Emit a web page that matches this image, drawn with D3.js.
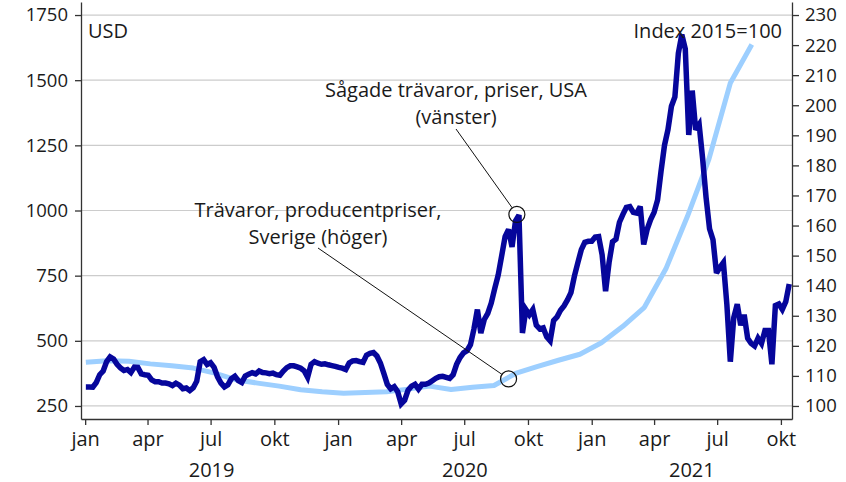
<!DOCTYPE html>
<html>
<head>
<meta charset="utf-8">
<script src="https://cdn.jsdelivr.net/npm/d3@7"></script>
<style>
  body { margin: 0; background: #fff; }
  text { font-family: "Open Sans", sans-serif; fill: #1a1a1a; }
</style>
</head>
<body>
<div id="chart"></div>
<script>
// Sågade trävaror, priser, USA (USD), one value every 5 days from 2 jan 2019
var lumberStart = "2019-01-02";
var lumberStep = 5;
var lumberPrice = [
  323, 323, 322, 340, 370, 384, 420, 438, 430, 410,
  396, 386, 390, 378, 399, 398, 373, 370, 368, 350,
  343, 343, 338, 338, 335, 328, 337, 330, 316, 319,
  309, 320, 345, 420, 428, 409, 416, 398, 362, 338,
  323, 331, 355, 364, 347, 340, 365, 372, 378, 373,
  384, 378, 377, 374, 376, 370, 368, 384, 397, 404,
  404, 400, 395, 385, 360, 410, 420, 414, 410, 412,
  408, 405, 402, 398, 395, 390, 415, 423, 424, 420,
  417, 445, 452, 455, 442, 415, 375, 333, 316, 324,
  305, 258, 272, 311, 326, 333, 315, 333, 333, 338,
  347, 356, 362, 364, 360, 356, 370, 410, 436, 454,
  462, 485, 545, 620, 530, 582, 605, 645, 700, 752,
  825, 900, 927, 860, 960, 982, 530, 620, 600, 620,
  560, 546, 550, 515, 500, 578, 592, 617, 634, 657,
  685, 748, 800, 850, 878, 882, 882, 898, 900, 830,
  690, 800, 880, 890, 955, 985, 1012, 1015, 993, 990,
  1015, 870, 928, 965, 993, 1040, 1150, 1250, 1310, 1400,
  1436, 1603, 1675, 1620, 1290, 1460, 1310, 1330, 1200, 1050,
  930, 888, 760, 782, 800, 640, 420, 590, 640, 560,
  600, 510, 490, 480, 510, 490, 540, 540, 410, 635,
  641, 620, 650, 718
];

// Trävaror, producentpriser, Sverige (index 2015=100), monthly
var ppiStart = "2019-01-02";
var ppiStep = 31;
var ppiIndex = [
  114.5, 115.0, 114.9, 114.0, 113.4, 112.6, 110.9, 108.7, 107.6, 106.6,
  105.4, 104.7, 104.2, 104.5, 104.7, 105.6, 106.6, 105.5, 106.2, 106.8,
  110.8, 113.1, 115.2, 117.2, 121.0, 126.5, 132.8, 145.6, 163.0, 182.0,
  207.4, 220.2
];

var leftTicks = [250, 500, 750, 1000, 1250, 1500, 1750];
var rightTicks = [100, 110, 120, 130, 140, 150, 160, 170, 180, 190, 200, 210, 220, 230];
var monthNames = ["jan", "feb", "mar", "apr", "maj", "jun", "jul", "aug", "sep", "okt", "nov", "dec"];
var years = [2019, 2020, 2021];

var lumberAnchor = {date: "2020-09-15", value: 985};
var ppiAnchor = {date: "2020-09-03", value: 109};

var parse = d3.timeParse("%Y-%m-%d");

var lumber = lumberPrice.map(function(v, i) {
  return {date: d3.timeDay.offset(parse(lumberStart), i * lumberStep), value: v};
});
var ppi = ppiIndex.map(function(v, i) {
  return {date: d3.timeDay.offset(parse(ppiStart), i * ppiStep), value: v};
});

var W = 846, H = 482;
var plotL = 81, plotR = 792, plotT = 2, plotB = 419;
var fsNum = "18.5px", fs = "20px";

var svg = d3.select("#chart").append("svg")
    .attr("width", W)
    .attr("height", H);

var x = d3.scaleTime()
    .domain([new Date(2018, 11, 26), new Date(2021, 9, 17)])
    .range([plotL, plotR]);
var yL = d3.scaleLinear().domain([200, 1800]).range([plotB, plotT]);
var yR = d3.scaleLinear().domain([95.667, 234.333]).range([plotB, plotT]);

// grid
svg.append("g")
  .selectAll("line")
  .data(leftTicks)
  .enter().append("line")
    .attr("x1", plotL).attr("x2", plotR)
    .attr("y1", function(d) { return yL(d); })
    .attr("y2", function(d) { return yL(d); })
    .attr("stroke", "#cccccc")
    .attr("stroke-width", 1.2);

var lineL = d3.line()
    .x(function(d) { return x(d.date); })
    .y(function(d) { return yL(d.value); });
var lineR = d3.line()
    .x(function(d) { return x(d.date); })
    .y(function(d) { return yR(d.value); });

svg.append("path")
    .datum(ppi)
    .attr("fill", "none")
    .attr("stroke", "#9dcfff")
    .attr("stroke-width", 5)
    .attr("stroke-linejoin", "round")
    .attr("d", lineR);

svg.append("path")
    .datum(lumber)
    .attr("fill", "none")
    .attr("stroke", "#06069b")
    .attr("stroke-width", 5.5)
    .attr("stroke-linejoin", "miter")
    .attr("stroke-miterlimit", 3)
    .attr("d", lineL);

// axes
var axL = svg.append("g")
    .attr("transform", "translate(" + plotL + ",0)")
    .call(d3.axisLeft(yL).tickValues(leftTicks).tickFormat(d3.format("d"))
      .tickSize(6).tickSizeOuter(0).tickPadding(7));
var axR = svg.append("g")
    .attr("transform", "translate(" + plotR + ",0)")
    .call(d3.axisRight(yR).tickValues(rightTicks).tickSize(7).tickSizeOuter(0).tickPadding(6));

var monthTicks = d3.timeMonth.every(3).range(new Date(2019, 0, 1), new Date(2021, 9, 2));
var axB = svg.append("g")
    .attr("transform", "translate(0," + plotB + ")")
    .call(d3.axisBottom(x).tickValues(monthTicks).tickSize(6).tickSizeOuter(0).tickPadding(7)
      .tickFormat(function(d) { return monthNames[d.getMonth()]; }));

[axL, axR, axB].forEach(function(a) {
  a.selectAll("path, line").attr("stroke", "#333").attr("stroke-width", 1.3);
  a.selectAll("text").style("font-family", "'Open Sans', sans-serif").attr("fill", "#1a1a1a");
});
axL.selectAll("text").style("font-size", fsNum);
axR.selectAll("text").style("font-size", fsNum);
axB.selectAll("text").style("font-size", fs);

svg.append("g")
  .selectAll("text")
  .data(years)
  .enter().append("text")
    .attr("x", function(d) {
      var a = Math.max(x(new Date(d, 0, 1)), plotL);
      var b = Math.min(x(new Date(d + 1, 0, 1)), plotR);
      return (a + b) / 2;
    })
    .attr("y", 477)
    .attr("text-anchor", "middle")
    .style("font-size", fs)
    .text(function(d) { return d; });

svg.append("text")
    .attr("x", 88).attr("y", 38)
    .style("font-size", fs)
    .text("USD");

svg.append("text")
    .attr("x", 782).attr("y", 38)
    .attr("text-anchor", "end")
    .style("font-size", fs)
    .text("Index 2015=100");

// annotations
function note(lines, tx, ty, lx, ly, cx, cy) {
  lines.forEach(function(t, i) {
    svg.append("text")
        .attr("x", tx).attr("y", ty + i * 27)
        .attr("text-anchor", "middle")
        .style("font-size", fs)
        .text(t);
  });
  var r = 8;
  var dx = cx - lx, dy = cy - ly, len = Math.sqrt(dx * dx + dy * dy);
  svg.append("line")
      .attr("x1", lx).attr("y1", ly)
      .attr("x2", cx - dx / len * r).attr("y2", cy - dy / len * r)
      .attr("stroke", "#111").attr("stroke-width", 1);
  svg.append("circle")
      .attr("cx", cx).attr("cy", cy).attr("r", r)
      .attr("fill", "none").attr("stroke", "#111").attr("stroke-width", 1.2);
}

note(["Sågade trävaror, priser, USA", "(vänster)"], 456, 97, 456, 129,
     x(parse(lumberAnchor.date)), yL(lumberAnchor.value));
note(["Trävaror, producentpriser,", "Sverige (höger)"], 318, 217, 318, 248,
     x(parse(ppiAnchor.date)), yR(ppiAnchor.value));
</script>
</body>
</html>
